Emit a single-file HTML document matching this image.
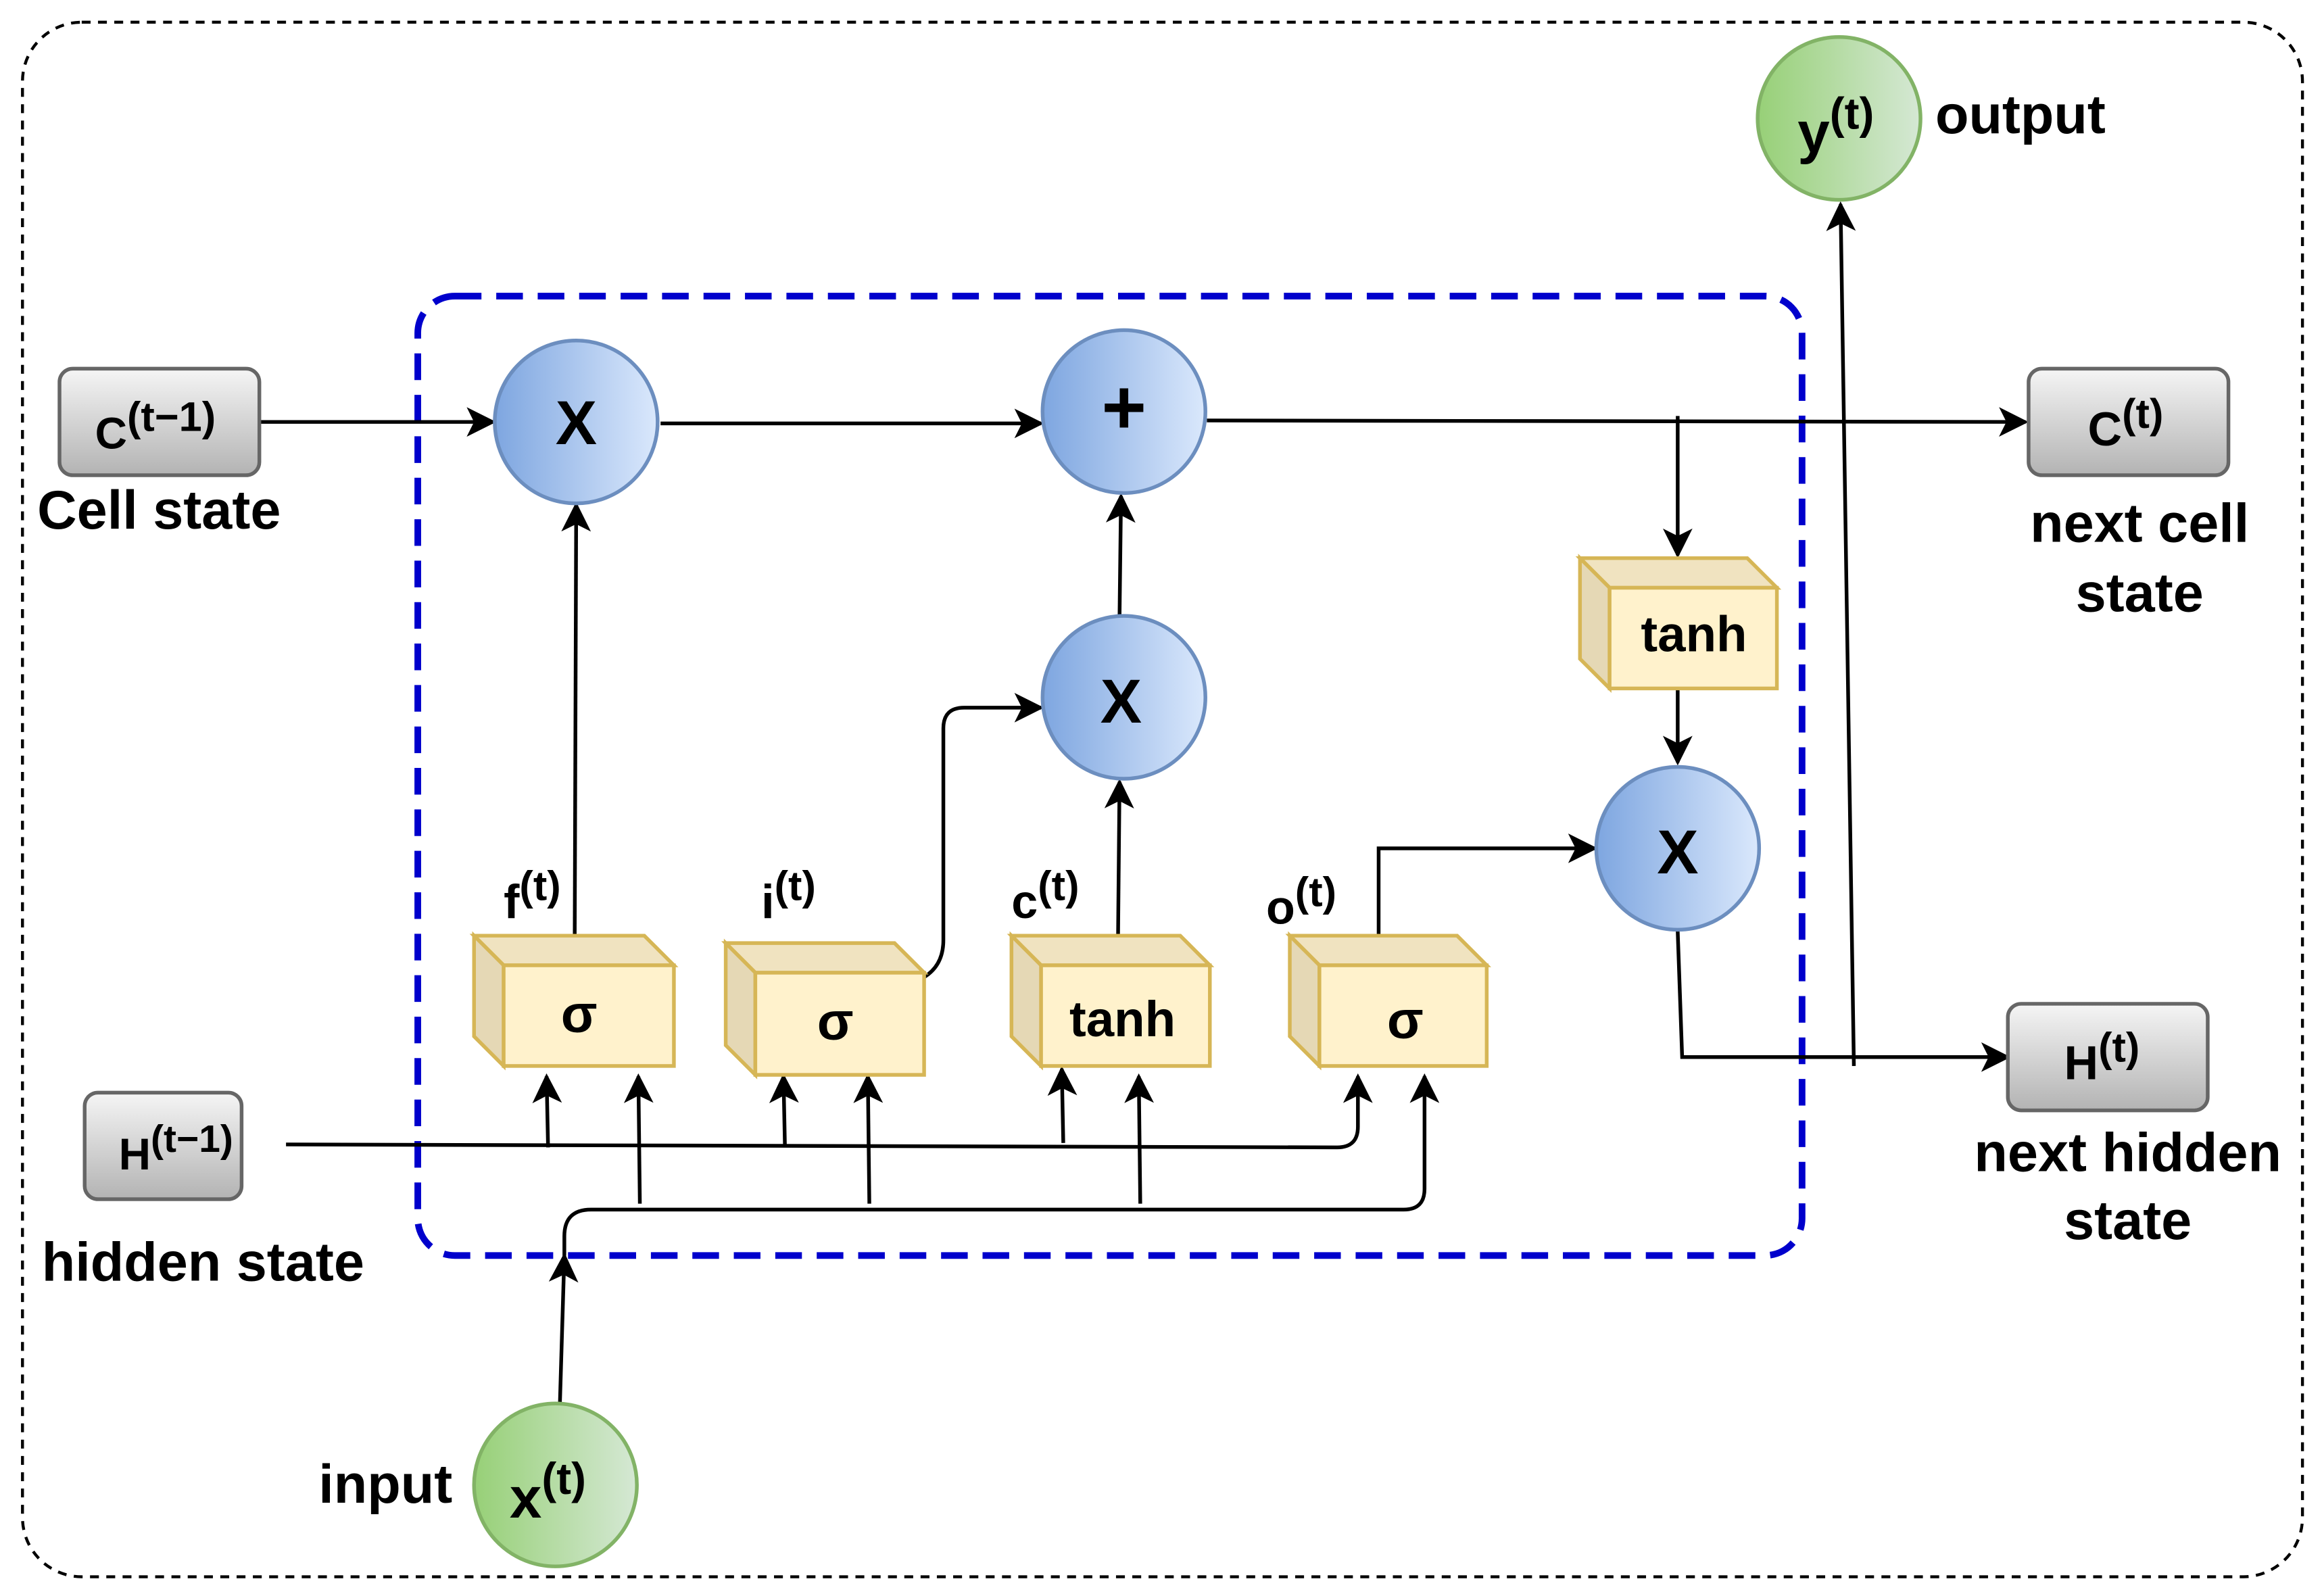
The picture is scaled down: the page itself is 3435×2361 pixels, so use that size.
<!DOCTYPE html>
<html><head><style>html,body{margin:0;padding:0;background:#fff}svg{display:block}</style></head><body>
<svg width="3435" height="2361" viewBox="0 0 1568 1078" xmlns="http://www.w3.org/2000/svg" font-family="Liberation Sans, sans-serif" font-weight="bold">
<defs>
<linearGradient id="bg" x1="0" x2="1"><stop offset="0" stop-color="#7ea6e0"/><stop offset="1" stop-color="#dae8fc"/></linearGradient>
<linearGradient id="gg" x1="0" x2="1"><stop offset="0" stop-color="#97d077"/><stop offset="1" stop-color="#d5e8d4"/></linearGradient>
<linearGradient id="gr" x1="0" y1="0" x2="0" y2="1"><stop offset="0" stop-color="#f5f5f5"/><stop offset="1" stop-color="#b3b3b3"/></linearGradient>
<marker id="a" viewBox="0 0 20 20" refX="18" refY="10" markerWidth="20" markerHeight="20" markerUnits="userSpaceOnUse" orient="auto"><path d="M0,0 L20,10 L0,20 L5,10 Z" fill="#000"/></marker>
</defs>
<rect x="15" y="15" width="1540" height="1050" rx="40" fill="none" stroke="#000" stroke-width="2" stroke-dasharray="6 5"/>
<rect x="282" y="200" width="935" height="648" rx="25" fill="none" stroke="#0000cc" stroke-width="4.5" stroke-dasharray="18 10"/>
<g fill="none" stroke="#000" stroke-width="2.5">
<path d="M175,285 H333" marker-end="url(#a)"/>
<path d="M446,286 H703" marker-end="url(#a)"/>
<path d="M815,284 L1368,285" marker-end="url(#a)"/>
<path d="M1133,281 V375" marker-end="url(#a)"/>
<path d="M1133,465 V515" marker-end="url(#a)"/>
<path d="M1133,629 L1136,714 H1356" marker-end="url(#a)"/>
<path d="M1252,720 L1243,138" marker-end="url(#a)"/>
<path d="M388,632 L389,341" marker-end="url(#a)"/>
<path d="M624,660 Q637,652 637,635 V492 Q637,478 651,478 H703" marker-end="url(#a)"/>
<path d="M755,632 L756,528" marker-end="url(#a)"/>
<path d="M756,416 L757,335" marker-end="url(#a)"/>
<path d="M931,632 V573 H1077" marker-end="url(#a)"/>
<path d="M193,773 L903,775 Q917,775 917,761 V727" marker-end="url(#a)"/>
<path d="M370,775 L369,727" marker-end="url(#a)"/>
<path d="M530,775 L529,727" marker-end="url(#a)"/>
<path d="M718,772 L717,722" marker-end="url(#a)"/>
<path d="M378,948 L381,848" marker-end="url(#a)"/>
<path d="M381,848 V835 Q381,817 399,817 H948 Q962,817 962,803 V727" marker-end="url(#a)"/>
<path d="M432,813 L431,727" marker-end="url(#a)"/>
<path d="M587,813 L586,727" marker-end="url(#a)"/>
<path d="M770,813 L769,727" marker-end="url(#a)"/>
</g>
<g stroke="#d6b656" stroke-width="2.5" stroke-linejoin="miter">
<path d="M320,632 H435 L455,652 H340 Z" fill="#f0e3c0"/><path d="M320,632 L340,652 V720 L320,700 Z" fill="#e5d8b5"/><rect x="340" y="652" width="115" height="68" fill="#fff2cc"/>
<path d="M490,637 H604 L624,657 H510 Z" fill="#f0e3c0"/><path d="M490,637 L510,657 V726 L490,706 Z" fill="#e5d8b5"/><rect x="510" y="657" width="114" height="69" fill="#fff2cc"/>
<path d="M683,632 H797 L817,652 H703 Z" fill="#f0e3c0"/><path d="M683,632 L703,652 V720 L683,700 Z" fill="#e5d8b5"/><rect x="703" y="652" width="114" height="68" fill="#fff2cc"/>
<path d="M871,632 H984 L1004,652 H891 Z" fill="#f0e3c0"/><path d="M871,632 L891,652 V720 L871,700 Z" fill="#e5d8b5"/><rect x="891" y="652" width="113" height="68" fill="#fff2cc"/>
<path d="M1067,377 H1180 L1200,397 H1087 Z" fill="#f0e3c0"/><path d="M1067,377 L1087,397 V465 L1067,445 Z" fill="#e5d8b5"/><rect x="1087" y="397" width="113" height="68" fill="#fff2cc"/>
</g>
<g stroke="#6c8ebf" stroke-width="2.5" fill="url(#bg)">
<circle cx="389" cy="285" r="55"/><circle cx="759" cy="278" r="55"/><circle cx="759" cy="471" r="55"/><circle cx="1133" cy="573" r="55"/>
</g>
<g stroke="#82b366" stroke-width="2.5" fill="url(#gg)">
<circle cx="1242" cy="80" r="55"/><circle cx="375" cy="1003" r="55"/>
</g>
<g stroke="#666" stroke-width="2.5" fill="url(#gr)">
<rect x="40" y="249" width="135" height="72" rx="9"/>
<rect x="1370" y="249" width="135" height="72" rx="9"/>
<rect x="1356" y="678" width="135" height="72" rx="9"/>
<rect x="57" y="738" width="106" height="72" rx="9"/>
</g>
<g fill="#000">
<text x="389" y="300" font-size="42" text-anchor="middle">X</text>
<text x="759" y="293" font-size="52" text-anchor="middle">+</text>
<text x="757" y="488" font-size="42" text-anchor="middle">X</text>
<text x="1133" y="590" font-size="42" text-anchor="middle">X</text>
<text x="391" y="697" font-size="36" text-anchor="middle">σ</text>
<text x="564" y="702" font-size="36" text-anchor="middle">σ</text>
<text x="758" y="700" font-size="34" text-anchor="middle">tanh</text>
<text x="949" y="701" font-size="36" text-anchor="middle">σ</text>
<text x="1144" y="440" font-size="34" text-anchor="middle">tanh</text>
<text x="340" y="620" font-size="32">f<tspan dy="-12" font-size="28">(t)</tspan></text>
<text x="514" y="620" font-size="32">i<tspan dy="-12" font-size="28">(t)</tspan></text>
<text x="683" y="620" font-size="32">c<tspan dy="-12" font-size="28">(t)</tspan></text>
<text x="855" y="624" font-size="32">o<tspan dy="-12" font-size="28">(t)</tspan></text>
<text x="64" y="303" font-size="30">C<tspan dy="-12" font-size="28">(t−1)</tspan></text>
<text x="1410" y="301" font-size="32">C<tspan dy="-12" font-size="28">(t)</tspan></text>
<text x="1394" y="729" font-size="32">H<tspan dy="-12" font-size="28">(t)</tspan></text>
<text x="80" y="790" font-size="30">H<tspan dy="-12" font-size="26">(t−1)</tspan></text>
<text x="1214" y="103" font-size="39">y<tspan dy="-16" font-size="30">(t)</tspan></text>
<text x="344" y="1025" font-size="39">x<tspan dy="-16" font-size="30">(t)</tspan></text>
<text x="25" y="357" font-size="37">Cell state</text>
<text x="28" y="865" font-size="37">hidden state</text>
<text x="1445" y="366" font-size="37" text-anchor="middle">next cell</text>
<text x="1445" y="413" font-size="37" text-anchor="middle">state</text>
<text x="1437" y="791" font-size="37" text-anchor="middle">next hidden</text>
<text x="1437" y="837" font-size="37" text-anchor="middle">state</text>
<text x="215" y="1015" font-size="37">input</text>
<text x="1307" y="90" font-size="37">output</text>
</g>
</svg>
</body></html>
